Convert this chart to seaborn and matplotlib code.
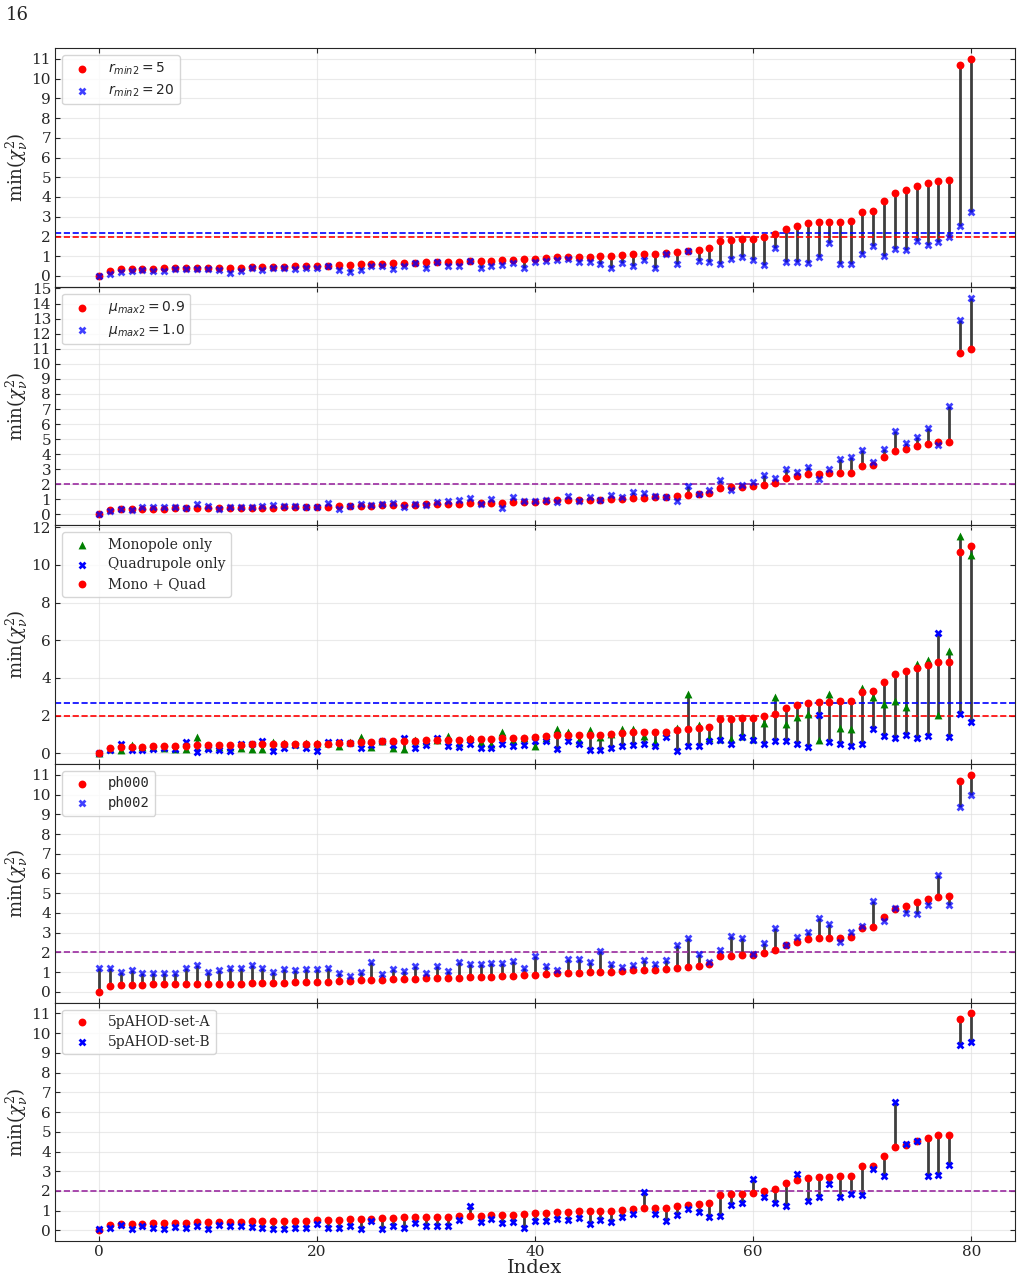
import numpy as np
import seaborn as sns
import matplotlib.pyplot as plt
from matplotlib.ticker import MultipleLocator

# shared baseline (red) series, sorted
chi_a = [0.0, 0.27, 0.35, 0.35, 0.35, 0.37, 0.38, 0.40, 0.40, 0.41,
         0.41, 0.42, 0.42, 0.42, 0.46, 0.46, 0.46, 0.47, 0.50, 0.50,
         0.51, 0.51, 0.55, 0.56, 0.58, 0.59, 0.62, 0.65, 0.66, 0.66,
         0.69, 0.69, 0.70, 0.71, 0.74, 0.75, 0.77, 0.78, 0.80, 0.83,
         0.86, 0.90, 0.95, 0.96, 0.97, 0.98, 0.99, 1.00, 1.06, 1.10,
         1.12, 1.13, 1.14, 1.23, 1.28, 1.33, 1.40, 1.79, 1.84, 1.85,
         1.88, 1.98, 2.10, 2.39, 2.54, 2.66, 2.71, 2.73, 2.75, 2.77,
         3.25, 3.28, 3.79, 4.21, 4.35, 4.55, 4.70, 4.82, 4.84, 10.7, 11.0]

chi_r20 = [0.0, 0.10, 0.19, 0.25, 0.32, 0.25, 0.25, 0.34, 0.34, 0.34,
           0.34, 0.29, 0.12, 0.25, 0.42, 0.29, 0.42, 0.42, 0.37, 0.42,
           0.42, 0.49, 0.32, 0.22, 0.32, 0.51, 0.51, 0.34, 0.51, 0.64,
           0.39, 0.70, 0.51, 0.51, 0.75, 0.39, 0.51, 0.56, 0.64, 0.39,
           0.70, 0.76, 0.81, 0.85, 0.70, 0.71, 0.61, 0.42, 0.64, 0.51,
           0.80, 0.42, 1.12, 0.61, 1.27, 0.73, 0.70, 0.61, 0.87, 0.93,
           0.78, 0.54, 1.39, 0.70, 0.70, 0.64, 0.97, 1.65, 0.58, 0.61,
           1.09, 1.51, 1.03, 1.37, 1.29, 1.78, 1.58, 1.70, 1.97, 2.54, 3.22]

chi_mu10 = [0.0, 0.24, 0.36, 0.29, 0.47, 0.47, 0.51, 0.51, 0.40, 0.69,
            0.56, 0.36, 0.47, 0.47, 0.51, 0.58, 0.62, 0.56, 0.56, 0.51,
            0.51, 0.73, 0.36, 0.56, 0.69, 0.62, 0.69, 0.78, 0.47, 0.69,
            0.60, 0.84, 0.89, 0.98, 1.07, 0.69, 1.04, 0.44, 1.16, 0.91,
            0.89, 0.93, 0.82, 1.22, 0.89, 1.16, 0.98, 1.31, 1.16, 1.49,
            1.40, 1.24, 1.13, 0.89, 1.91, 1.36, 1.62, 2.29, 1.62, 1.93,
            2.16, 2.64, 2.42, 3.00, 2.84, 3.18, 2.36, 3.02, 3.67, 3.82,
            4.29, 3.47, 4.33, 5.51, 4.73, 5.13, 5.73, 4.60, 7.22, 12.91, 14.4]

chi_mono = [0.0, 0.21, 0.16, 0.43, 0.30, 0.32, 0.28, 0.20, 0.20, 0.87,
            0.35, 0.32, 0.32, 0.28, 0.21, 0.21, 0.57, 0.52, 0.50, 0.52,
            0.52, 0.53, 0.36, 0.57, 0.87, 0.30, 0.64, 0.28, 0.21, 0.71,
            0.67, 0.71, 0.92, 0.52, 0.83, 0.60, 0.50, 1.15, 0.71, 0.78,
            0.39, 0.80, 1.28, 1.10, 0.71, 1.24, 0.87, 1.00, 1.28, 1.30,
            0.92, 0.57, 1.10, 1.33, 3.14, 1.51, 0.83, 0.75, 0.75, 0.92,
            0.75, 1.58, 2.97, 1.55, 1.90, 2.08, 0.69, 3.14, 1.31, 1.28,
            3.46, 2.97, 2.61, 2.79, 2.47, 4.74, 4.97, 2.04, 5.44, 11.53, 10.55]

chi_quad = [0.0, 0.16, 0.48, 0.16, 0.16, 0.20, 0.27, 0.21, 0.57, 0.04,
            0.21, 0.16, 0.11, 0.50, 0.50, 0.66, 0.14, 0.28, 0.41, 0.28,
            0.14, 0.59, 0.57, 0.53, 0.28, 0.41, 0.64, 0.41, 0.83, 0.25,
            0.44, 0.82, 0.36, 0.34, 0.50, 0.25, 0.27, 0.50, 0.36, 0.44,
            0.66, 0.62, 0.21, 0.66, 0.50, 0.16, 0.16, 0.25, 0.39, 0.43,
            0.50, 0.39, 0.87, 0.12, 0.39, 0.39, 0.62, 0.69, 0.51, 0.87,
            0.69, 0.51, 0.62, 0.62, 0.51, 0.30, 2.04, 0.57, 0.48, 0.36,
            0.51, 1.28, 0.91, 0.82, 0.94, 0.82, 0.91, 6.38, 0.87, 2.10, 1.67]

chi_ph002 = [1.22, 1.22, 1.02, 1.10, 0.96, 0.96, 0.96, 0.96, 1.22, 1.35,
             1.02, 1.13, 1.22, 1.22, 1.35, 1.22, 1.02, 1.18, 1.10, 1.18,
             1.18, 1.22, 0.93, 0.80, 1.02, 1.49, 0.88, 1.17, 1.05, 1.29,
             0.93, 1.30, 1.05, 1.49, 1.40, 1.40, 1.44, 1.44, 1.54, 1.22,
             1.81, 1.32, 1.13, 1.64, 1.64, 1.49, 2.06, 1.40, 1.27, 1.37,
             1.61, 1.40, 1.61, 2.39, 2.72, 1.91, 1.52, 2.12, 2.83, 2.72,
             1.91, 2.47, 3.23, 2.37, 2.76, 3.01, 3.72, 3.45, 2.50, 3.01,
             3.35, 4.62, 3.57, 4.25, 3.98, 3.94, 4.42, 5.92, 4.42, 9.36, 10.0]

chi_setb = [0.05, 0.12, 0.30, 0.08, 0.20, 0.14, 0.08, 0.17, 0.14, 0.20,
            0.08, 0.30, 0.24, 0.20, 0.17, 0.14, 0.08, 0.08, 0.14, 0.14,
            0.34, 0.14, 0.14, 0.22, 0.08, 0.49, 0.08, 0.20, 0.14, 0.37,
            0.20, 0.20, 0.25, 0.53, 1.22, 0.41, 0.56, 0.37, 0.44, 0.12,
            0.49, 0.49, 0.58, 0.53, 0.61, 0.34, 0.54, 0.41, 0.69, 0.81,
            1.93, 0.81, 0.46, 0.78, 1.10, 0.95, 0.68, 0.71, 1.29, 1.39,
            2.61, 1.71, 1.39, 1.24, 2.86, 1.47, 1.68, 2.36, 1.68, 1.83,
            1.78, 3.10, 2.78, 6.49, 4.37, 4.51, 2.78, 2.81, 3.34, 9.42, 9.54]

idx = np.arange(len(chi_a))

sns.set_style('ticks')
plt.rcParams['font.family'] = 'DejaVu Serif'

fig, axes = plt.subplots(5, 1, figsize=(10.23, 12.81), dpi=100, sharex=True)
fig.subplots_adjust(left=0.054, right=0.992, top=0.9625, bottom=0.031, hspace=0)


def draw_panel(ax, series, hlines, ystep, legend_prop):
    stack = np.array([s[0] for s in series])
    ax.vlines(idx, stack.min(axis=0), stack.max(axis=0), color='#2a2a2a',
              lw=2, alpha=0.9, zorder=1)
    for vals, color, marker, label, alpha in [s[1:] for s in series]:
        sns.scatterplot(x=idx, y=vals, color=color, marker=marker, s=32,
                        linewidth=0, alpha=alpha, label=label, ax=ax, zorder=3)
    for y, c in hlines:
        ax.axhline(y, color=c, ls='--', lw=1.2, zorder=2)
    ax.yaxis.set_major_locator(MultipleLocator(ystep))
    ax.xaxis.set_major_locator(MultipleLocator(20))
    ax.tick_params(direction='in', top=True, right=True, labelsize=11, pad=3)
    ax.grid(True, color='#dddddd', lw=0.8, alpha=0.6)
    ax.set_ylabel(r'min($\chi^2_\nu$)', fontsize=13, labelpad=1,
                  math_fontfamily='dejavuserif')
    ax.legend(loc='upper left', prop=legend_prop, handletextpad=0.9,
              handlelength=2.0, labelspacing=0.4, fancybox=True, framealpha=0.8)


draw_panel(axes[0],
           [(chi_a, chi_a, 'red', 'o', r'$r_{min2}=5$', 1.0),
            (chi_r20, chi_r20, 'blue', 'X', r'$r_{min2}=20$', 0.75)],
           [(1.98, 'red'), (2.17, 'blue')], 1,
           {'family': 'DejaVu Sans', 'size': 10})
draw_panel(axes[1],
           [(chi_a, chi_a, 'red', 'o', r'$\mu_{max2}=0.9$', 1.0),
            (chi_mu10, chi_mu10, 'blue', 'X', r'$\mu_{max2}=1.0$', 0.75)],
           [(2.0, '#9a2aa0')], 1,
           {'family': 'DejaVu Sans', 'size': 10})
draw_panel(axes[2],
           [(chi_mono, chi_mono, 'green', '^', 'Monopole only', 1.0),
            (chi_quad, chi_quad, 'blue', 'X', 'Quadrupole only', 1.0),
            (chi_a, chi_a, 'red', 'o', 'Mono + Quad', 1.0)],
           [(2.68, 'blue'), (2.0, 'red')], 2,
           {'family': 'DejaVu Serif', 'size': 10})
draw_panel(axes[3],
           [(chi_a, chi_a, 'red', 'o', 'ph000', 1.0),
            (chi_ph002, chi_ph002, 'blue', 'X', 'ph002', 0.75)],
           [(2.0, '#9a2aa0')], 1,
           {'family': 'DejaVu Sans Mono', 'size': 10})
draw_panel(axes[4],
           [(chi_a, chi_a, 'red', 'o', '5pAHOD-set-A', 1.0),
            (chi_setb, chi_setb, 'blue', 'X', '5pAHOD-set-B', 1.0)],
           [(2.0, '#9a2aa0')], 1,
           {'family': 'DejaVu Serif', 'size': 10})

axes[4].set_xlabel('Index', fontsize=14, labelpad=0)
fig.text(0.006, 0.988, '16', fontsize=13, va='center', ha='left')

fig.savefig('out.png', dpi=100)
